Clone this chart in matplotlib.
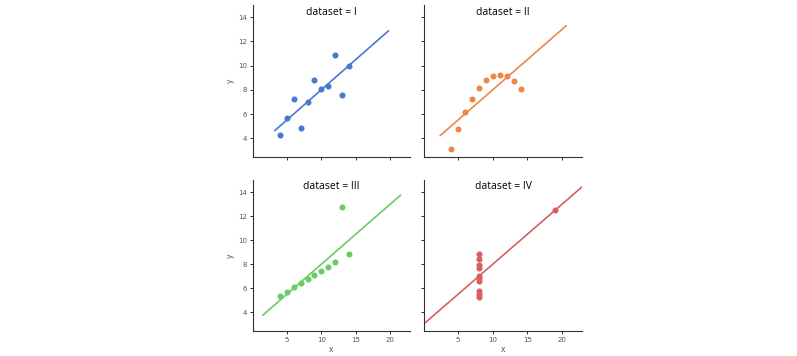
import matplotlib
matplotlib.use("Agg")
import matplotlib.pyplot as plt
import seaborn as sns
import numpy as np

# Anscombe's quartet
datasets = ["I", "II", "III", "IV"]
x_123 = [10, 8, 13, 9, 11, 14, 6, 4, 12, 7, 5]
y_1 = [8.04, 6.95, 7.58, 8.81, 8.33, 9.96, 7.24, 4.26, 10.84, 4.82, 5.68]
y_2 = [9.14, 8.14, 8.74, 8.77, 9.26, 8.10, 6.13, 3.10, 9.13, 7.26, 4.74]
y_3 = [7.46, 6.77, 12.74, 7.11, 7.81, 8.84, 6.08, 5.39, 8.15, 6.42, 5.73]
x_4 = [8, 8, 8, 8, 8, 8, 8, 19, 8, 8, 8]
y_4 = [6.58, 5.76, 7.71, 8.84, 8.47, 7.04, 5.25, 12.50, 5.56, 7.91, 6.89]

xs = [x_123, x_123, x_123, x_4]
ys = [y_1, y_2, y_3, y_4]

sns.set_theme(style="ticks")
colors = sns.color_palette("muted", 4)

W, H = 797, 356
fig = plt.figure(figsize=(W / 100, H / 100), dpi=100)
boxes = [(253, 5, 410, 157), (424, 5, 582, 157),
         (253, 180, 410, 331), (424, 180, 582, 331)]
axes = []
for i, (l, t, r, b) in enumerate(boxes):
    kw = {} if i == 0 else {"sharex": axes[0], "sharey": axes[0]}
    axes.append(fig.add_axes([l / W, 1 - b / H, (r - l) / W, (b - t) / H], **kw))

# start the x range from all points, like lmplot does, so each fit line
# spans whatever the shared axis covers when it is drawn
all_x = np.concatenate([np.asarray(x, float) for x in xs])
pad = 0.05 * (all_x.max() - all_x.min())
axes[0].set_xlim(all_x.min() - pad, all_x.max() + pad)

for k, (ax, d, x, y, c) in enumerate(zip(axes, datasets, xs, ys, colors)):
    x = np.asarray(x, float)
    y = np.asarray(y, float)
    ax.scatter(x, y, s=19, color=c, linewidths=0, zorder=3)
    slope, icpt = np.polyfit(x, y, 1)
    lo, hi = ax.get_xlim()
    if k == len(axes) - 1:
        lo, hi = 0.1, 22.85
    grid = np.linspace(lo, hi, 100)
    ax.plot(grid, icpt + slope * grid, color=c, linewidth=1.2)
    ax.set_autoscalex_on(True)
    ax.autoscale_view()

axes[0].set_xlim(0.1, 22.85)
axes[0].set_ylim(2.45, 15.0)

for i, (ax, d) in enumerate(zip(axes, datasets)):
    ax.text(0.5, 1 - 7 / 152, f"dataset = {d}", transform=ax.transAxes,
            ha="center", va="center", fontsize=7.5, family="Open Sans",
            color="black")
    ax.set_xticks([5, 10, 15, 20])
    ax.set_yticks([4, 6, 8, 10, 12, 14])
    ax.tick_params(labelsize=5, colors="#333333", labelcolor="#555555",
                   length=2.5, width=0.7, pad=2)
    ax.spines["top"].set_visible(False)
    ax.spines["right"].set_visible(False)
    for s in ("left", "bottom"):
        ax.spines[s].set_linewidth(0.8)
        ax.spines[s].set_color("#333333")
    if i % 2 == 0:
        ax.set_ylabel("y", fontsize=5.5, color="#555555", labelpad=2)
    else:
        ax.tick_params(labelleft=False)
    if i >= 2:
        ax.set_xlabel("x", fontsize=5.5, color="#555555", labelpad=1)
    else:
        ax.tick_params(labelbottom=False)

fig.savefig("out.png", dpi=100)
